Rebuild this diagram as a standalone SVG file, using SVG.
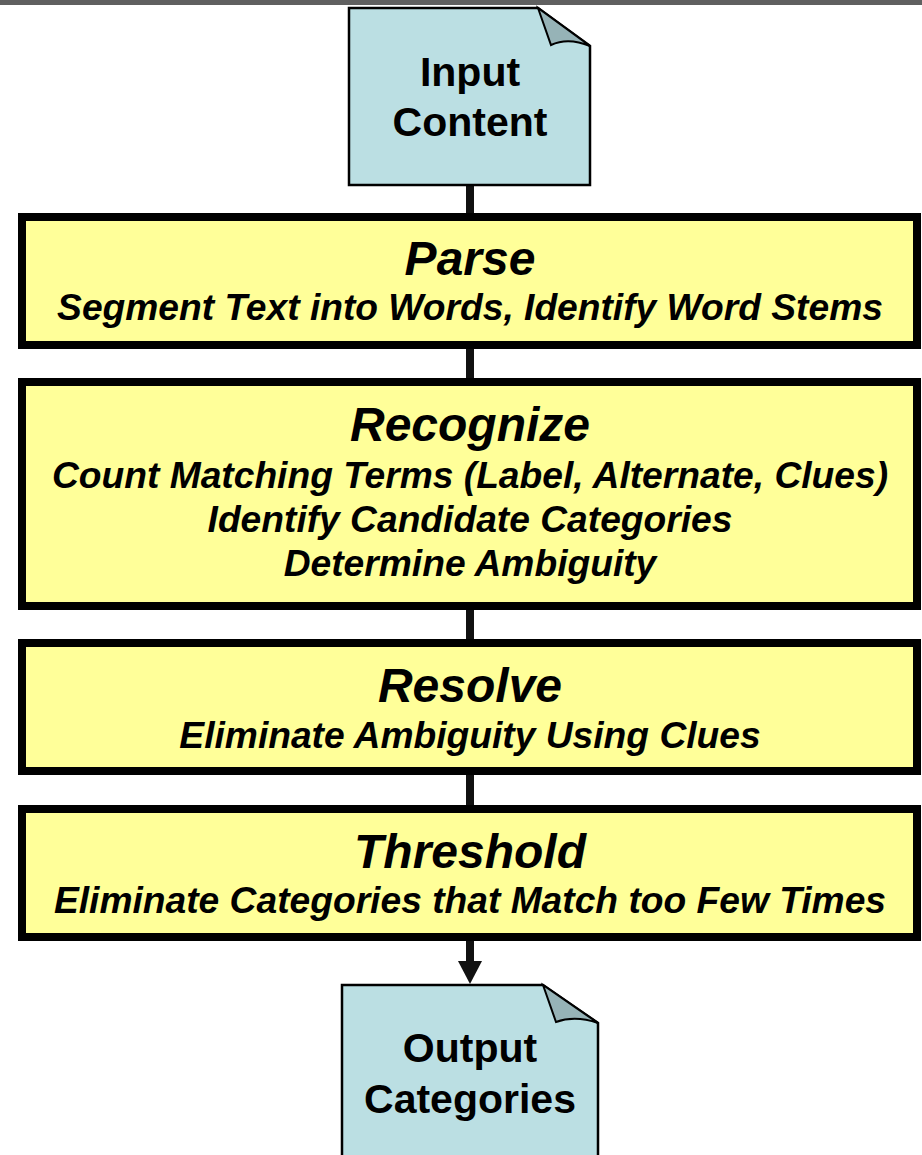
<svg xmlns="http://www.w3.org/2000/svg" width="922" height="1155" viewBox="0 0 922 1155">
<style>
.box{fill:#ffff99;stroke:#000;stroke-width:8}
.doc{fill:#bbdfe3;stroke:#000;stroke-width:2.5;stroke-linejoin:miter}
.flap{fill:#96b3b7;stroke:#000;stroke-width:2}
.dt{font-family:"Liberation Sans",Arial,sans-serif;font-weight:bold;font-size:41px;text-anchor:middle;fill:#000}
.tt{font-family:"Liberation Sans",Arial,sans-serif;font-weight:bold;font-style:italic;font-size:48px;text-anchor:middle;fill:#000}
.st{font-family:"Liberation Sans",Arial,sans-serif;font-weight:bold;font-style:italic;font-size:37.2px;text-anchor:middle;fill:#000}
.cn{stroke:#111;stroke-width:8;fill:none}
</style>
<rect x="0" y="0" width="922" height="5" fill="#606060"/>
<g id="connectors">
<line class="cn" x1="470" y1="185" x2="470" y2="214"/>
<line class="cn" x1="470" y1="349" x2="470" y2="379"/>
<line class="cn" x1="470" y1="610" x2="470" y2="640"/>
<line class="cn" x1="470" y1="775" x2="470" y2="806"/>
<line class="cn" x1="470" y1="941" x2="470" y2="961"/>
<path d="M458,961 L482,961 L470,984 Z" fill="#111"/>
</g>
<g id="input">
<path class="doc" d="M349,8 L538,8 L590,46 L590,185 L349,185 Z"/>
<path class="flap" d="M538,8 L551,45 Q568,37 590,46 Z"/>
<text class="dt" x="470" y="86">Input</text>
<text class="dt" x="470" y="136">Content</text>
</g>
<g id="parse">
<rect class="box" x="22" y="217" width="895" height="128"/>
<text class="tt" x="470" y="275">Parse</text>
<text class="st" x="470" y="320">Segment Text into Words, Identify Word Stems</text>
</g>
<g id="recognize">
<rect class="box" x="22" y="382" width="895" height="224"/>
<text class="tt" x="470" y="441">Recognize</text>
<text class="st" x="470" y="488">Count Matching Terms (Label, Alternate, Clues)</text>
<text class="st" x="470" y="532">Identify Candidate Categories</text>
<text class="st" x="470" y="576">Determine Ambiguity</text>
</g>
<g id="resolve">
<rect class="box" x="22" y="643" width="895" height="128"/>
<text class="tt" x="470" y="702">Resolve</text>
<text class="st" x="470" y="748">Eliminate Ambiguity Using Clues</text>
</g>
<g id="threshold">
<rect class="box" x="22" y="809" width="895" height="128"/>
<text class="tt" x="470" y="868">Threshold</text>
<text class="st" x="470" y="913">Eliminate Categories that Match too Few Times</text>
</g>
<g id="output">
<path class="doc" d="M342,985 L543,985 L598,1023 L598,1160 L342,1160 Z"/>
<path class="flap" d="M543,985 L556,1022 Q575,1015 598,1023 Z"/>
<text class="dt" x="470" y="1062">Output</text>
<text class="dt" x="470" y="1113">Categories</text>
</g>
</svg>
